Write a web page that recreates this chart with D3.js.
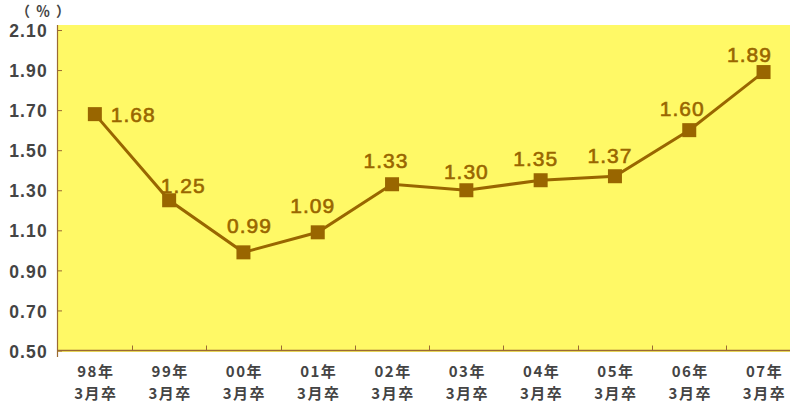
<!DOCTYPE html>
<html>
<head>
<meta charset="utf-8">
<script src="https://cdn.jsdelivr.net/npm/d3@7/dist/d3.min.js"></script>
<style>
  html, body { margin: 0; padding: 0; background: #ffffff; }
  svg { display: block; }
</style>
</head>
<body>
<svg id="chart" width="790" height="403"></svg>
<script>
// Graduation cohorts (year + "3月卒") and the rate for each cohort (%)
const years = ["98年", "99年", "00年", "01年", "02年", "03年", "04年", "05年", "06年", "07年"];
const cohortSuffix = "3月卒";
const rates = [1.68, 1.25, 0.99, 1.09, 1.33, 1.30, 1.35, 1.37, 1.60, 1.89];
const yTicks = [0.50, 0.70, 0.90, 1.10, 1.30, 1.50, 1.70, 1.90, 2.10];
const unitLabel = "（％）";

// Small per-label nudges so value labels sit clear of the line
const labelNudgeX = [0, 14, 6, -5, -6, 0, -5, -5, -7, -14];
const labelNudgeY = [0, -15, -27, -27, -24, -19, -22, -21, -22, -18];

const brown = "#996600";
const axisColor = "#9a6a33";
const textGray = "#444444";

const svg = d3.select("#chart");

const plot = { left: 57, top: 25, right: 790, bottom: 352 };

const x = d3.scaleBand()
  .domain(years)
  .range([57.7, 57.7 + 74.3 * years.length])
  .paddingInner(0).paddingOuter(0);

const y = d3.scaleLinear()
  .domain([0.5, 2.1])
  .range([350.5, 30]);

// yellow plotting area
svg.append("rect")
  .attr("x", plot.left).attr("y", plot.top)
  .attr("width", plot.right - plot.left)
  .attr("height", plot.bottom - plot.top)
  .attr("fill", "#fff966");

// left axis
const yAxis = d3.axisRight(y)
  .tickValues(yTicks)
  .tickSize(5)
  .tickFormat(d3.format(".2f"));

const gy = svg.append("g")
  .attr("transform", `translate(${plot.left},0)`)
  .call(yAxis);
gy.select(".domain").remove();
gy.selectAll(".tick line").attr("stroke", axisColor).attr("stroke-width", 1);
gy.selectAll(".tick text")
  .attr("x", -9)
  .attr("dy", "0.38em")
  .attr("text-anchor", "end")
  .attr("fill", textGray)
  .style("font-family", "'Liberation Sans', Arial, sans-serif")
  .style("font-weight", "bold")
  .style("font-size", "17.5px")
  .style("letter-spacing", "1.2px");

svg.append("line")
  .attr("x1", plot.left + 0.5).attr("x2", plot.left + 0.5)
  .attr("y1", plot.top).attr("y2", 357)
  .attr("stroke", axisColor).attr("stroke-width", 1.2);

// bottom axis with ticks at category boundaries
const xAxisY = y(0.5);
svg.append("line")
  .attr("x1", plot.left).attr("x2", plot.right)
  .attr("y1", xAxisY).attr("y2", xAxisY)
  .attr("stroke", axisColor).attr("stroke-width", 1.5);

svg.append("g").selectAll("line")
  .data(years.slice(1))
  .join("line")
  .attr("x1", d => Math.round(x(d)) + 0.5)
  .attr("x2", d => Math.round(x(d)) + 0.5)
  .attr("y1", xAxisY).attr("y2", xAxisY - 5)
  .attr("stroke", axisColor).attr("stroke-width", 1);

// category labels (two lines)
const cx = d => x(d) + x.bandwidth() / 2;
const xl = svg.append("g")
  .attr("fill", textGray)
  .style("font-family", "'Noto Sans CJK JP', sans-serif")
  .style("font-weight", "bold")
  .style("font-size", "15px")
  .style("letter-spacing", "1.5px")
  .attr("text-anchor", "middle");
xl.selectAll("text.yr")
  .data(years)
  .join("text")
  .attr("class", "yr")
  .attr("x", d => cx(d) + 1)
  .attr("y", 377)
  .text(d => d);
xl.selectAll("text.sfx")
  .data(years)
  .join("text")
  .attr("class", "sfx")
  .attr("x", d => cx(d) + 1)
  .attr("y", 399)
  .text(cohortSuffix);

// unit label
svg.append("text")
  .attr("x", 46).attr("y", 16)
  .attr("text-anchor", "middle")
  .attr("fill", textGray)
  .style("font-family", "'Noto Sans CJK JP', sans-serif")
  .style("font-size", "14px")
  .style("font-weight", "bold")
  .style("letter-spacing", "6px")
  .text(unitLabel);

// line
const pts = rates.map((v, i) => [cx(years[i]), y(v)]);
svg.append("path")
  .attr("d", d3.line()(pts))
  .attr("fill", "none")
  .attr("stroke", brown)
  .attr("stroke-width", 3);

// square markers
const ms = 14;
svg.append("g").selectAll("rect")
  .data(rates)
  .join("rect")
  .attr("x", (d, i) => cx(years[i]) - ms / 2)
  .attr("y", d => y(d) - ms / 2)
  .attr("width", ms).attr("height", ms)
  .attr("fill", brown);

// value labels
svg.append("g").selectAll("text")
  .data(rates)
  .join("text")
  .attr("x", (d, i) => i === 0 ? cx(years[i]) + 16 : cx(years[i]) + labelNudgeX[i])
  .attr("y", (d, i) => i === 0 ? y(d) + 8 : y(d) + labelNudgeY[i] + 8)
  .attr("text-anchor", (d, i) => i === 0 ? "start" : "middle")
  .attr("fill", brown)
  .attr("stroke", brown)
  .attr("stroke-width", 0.6)
  .style("font-family", "'Liberation Sans', Arial, sans-serif")
  .style("font-size", "21px")
  .style("letter-spacing", "1px")
  .text(d => d.toFixed(2));
</script>
</body>
</html>
